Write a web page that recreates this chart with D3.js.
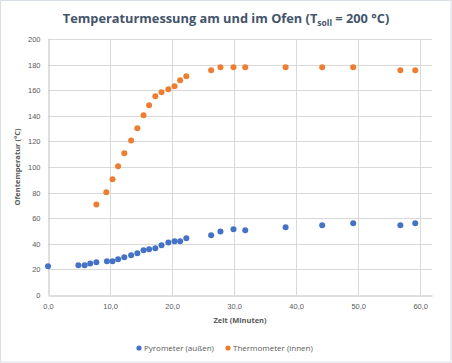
<!DOCTYPE html>
<meta charset="utf-8">
<style>
body { margin: 0; background: #fff; }
svg { display: block; font-family: "Open Sans", "Liberation Sans", sans-serif; }
.grid line { stroke: #d9d9d9; stroke-width: 1px; }
.tick text { fill: #595959; font-size: 7.5px; }
.axis-title { fill: #595959; font-size: 7.5px; font-weight: bold; }
.legend text { fill: #595959; font-size: 8px; }
</style>
<body>
<script src="https://cdnjs.cloudflare.com/ajax/libs/d3/7.8.5/d3.min.js"></script>
<script>

var width = 452,
    height = 363;

// Zeit (Minuten) und Temperaturen
var pyroTime = [0, 4.9, 5.9, 6.8, 7.8, 9.5, 10.4, 11.3, 12.3, 13.4, 14.4, 15.4, 16.3, 17.3, 18.3,
                19.4, 20.4, 21.3, 22.3, 26.3, 27.8, 29.9, 31.8, 38.3, 44.2, 49.2, 56.8, 59.2];
var pyroTemp = [22.4, 23.2, 23.2, 24.7, 25.5, 26.3, 26.3, 27.9, 29.4, 31.0, 32.6, 34.9, 35.7, 36.5, 38.8,
                41.1, 42.0, 42.0, 44.3, 46.6, 49.7, 51.3, 50.5, 52.9, 54.4, 56.0, 54.4, 56.0];

var thermoTime = [7.8, 9.4, 10.4, 11.3, 12.3, 13.4, 14.4, 15.4, 16.3, 17.3, 18.3, 19.4, 20.4, 21.3,
                  22.3, 26.3, 27.8, 29.9, 31.8, 38.3, 44.2, 49.2, 56.8, 59.2];
var thermoTemp = [70.8, 80.2, 90.4, 100.5, 110.7, 120.8, 130.2, 140.4, 148.2, 155.2, 158.4, 160.7, 163.0, 167.7,
                  170.9, 175.5, 177.9, 177.9, 177.9, 177.9, 177.9, 177.9, 175.5, 175.5];

var xTicks = [0, 10, 20, 30, 40, 50, 60];
var yTicks = [0, 20, 40, 60, 80, 100, 120, 140, 160, 180, 200];

var seriesNames = ["Pyrometer (außen)", "Thermometer (innen)"];
var seriesColors = ["#4472c4", "#ed7d31"];

var series = [
  { name: seriesNames[0], color: seriesColors[0], pts: pyroTime.map((t, i) => [t, pyroTemp[i]]) },
  { name: seriesNames[1], color: seriesColors[1], pts: thermoTime.map((t, i) => [t, thermoTemp[i]]) }
];

var plot = { left: 48, right: 432, top: 39, bottom: 295 };

var x = d3.scaleLinear().domain([0, 61.9]).range([plot.left, plot.right]);
var y = d3.scaleLinear().domain([0, 200]).range([plot.bottom, plot.top]);

var svg = d3.select("body").append("svg")
    .attr("width", width)
    .attr("height", height);

svg.append("rect")
    .attr("x", 0.5).attr("y", 0.5)
    .attr("width", width - 1.5).attr("height", height - 1.5)
    .attr("fill", "#fff")
    .attr("stroke", "#d9dde6");

// horizontal gridlines
svg.append("g").attr("class", "grid")
  .selectAll("line")
    .data(yTicks.filter(d => d > 0))
  .enter().append("line")
    .attr("x1", plot.left).attr("x2", plot.right)
    .attr("y1", d => Math.round(y(d)) + 0.5).attr("y2", d => Math.round(y(d)) + 0.5);

// vertical gridlines
svg.append("g").attr("class", "grid")
  .selectAll("line")
    .data(xTicks.filter(d => d > 0))
  .enter().append("line")
    .attr("x1", d => Math.round(x(d)) + 0.5).attr("x2", d => Math.round(x(d)) + 0.5)
    .attr("y1", plot.top).attr("y2", plot.bottom);

var fmtX = d => d3.format(".1f")(d).replace(".", ",");

var xAxis = svg.append("g")
    .attr("transform", `translate(0,${plot.bottom + 0.5})`)
    .call(d3.axisBottom(x).tickValues(xTicks).tickFormat(fmtX).tickSize(0).tickPadding(8));
xAxis.select(".domain").attr("stroke", "#bfbfbf");

var yAxis = svg.append("g")
    .attr("transform", `translate(${plot.left + 0.5},0)`)
    .call(d3.axisLeft(y).tickValues(yTicks).tickSize(0).tickPadding(8));
yAxis.select(".domain").attr("stroke", "#bfbfbf");
svg.selectAll(".tick text").attr("font-family", null);

// points
series.forEach(s => {
  svg.append("g")
    .selectAll("circle")
      .data(s.pts)
    .enter().append("circle")
      .attr("cx", d => x(d[0]))
      .attr("cy", d => y(d[1]))
      .attr("r", 3)
      .attr("fill", s.color);
});

// title
var title = svg.append("text")
    .attr("x", 226).attr("y", 23)
    .attr("text-anchor", "middle")
    .attr("fill", "#44546a")
    .attr("font-size", "12.8px")
    .attr("font-weight", "bold");
title.append("tspan").text("Temperaturmessung am und im Ofen (T");
title.append("tspan").attr("font-size", "8.5px").attr("dy", 3).text("soll");
title.append("tspan").attr("dy", -3).text(" = 200 °C)");

svg.append("text")
    .attr("class", "axis-title")
    .attr("x", (plot.left + plot.right) / 2).attr("y", 323)
    .attr("text-anchor", "middle")
    .text("Zeit (Minuten)");

svg.append("text")
    .attr("class", "axis-title")
    .attr("transform", `translate(20,${(plot.top + plot.bottom) / 2}) rotate(-90)`)
    .attr("text-anchor", "middle")
    .text("Ofentemperatur (°C)");

// legend
var legendX = [139, 228];
var legend = svg.append("g").attr("class", "legend")
  .selectAll("g")
    .data(series)
  .enter().append("g")
    .attr("transform", (d, i) => `translate(${legendX[i]},348)`);
legend.append("circle").attr("r", 2.6).attr("fill", d => d.color);
legend.append("text").attr("x", 5).attr("dy", "0.35em").text(d => d.name);

</script>
